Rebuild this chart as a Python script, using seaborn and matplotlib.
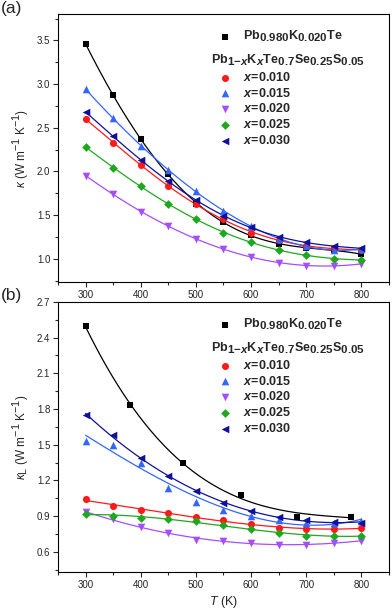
import numpy as np
import pandas as pd
import matplotlib
matplotlib.use("Agg")
import matplotlib.pyplot as plt
import matplotlib._mathtext as mathtext_impl
import seaborn as sns
from matplotlib.ticker import MultipleLocator, FormatStrFormatter

sns.set_style("ticks")
plt.rcParams['font.family'] = ['Liberation Sans', 'DejaVu Sans']
plt.rcParams['mathtext.fontset'] = 'custom'
plt.rcParams['mathtext.rm'] = 'Liberation Sans'
plt.rcParams['mathtext.it'] = 'Liberation Sans:italic'
plt.rcParams['mathtext.bf'] = 'Liberation Sans:bold'
plt.rcParams['mathtext.bfit'] = 'Liberation Sans:bold:italic'
# Origin-style subscripts are nearly full size
mathtext_impl.SHRINK_FACTOR = 0.92

# temperatures
T = [300, 350, 400, 450, 500, 550, 600, 650, 700, 750, 800]
T_ref_b = [300, 380, 476, 582, 683, 782]

# (a) total thermal conductivity
kap_ref = [3.46, 2.87, 2.37, 1.97, 1.63, 1.42, 1.27, 1.17, 1.12, 1.10, 1.05]
kap_010 = [2.60, 2.33, 2.07, 1.83, 1.63, 1.45, 1.30, 1.21, 1.15, 1.12, 1.10]
kap_015 = [2.94, 2.61, 2.29, 2.02, 1.77, 1.55, 1.37, 1.23, 1.14, 1.10, 1.11]
kap_020 = [1.95, 1.74, 1.54, 1.37, 1.23, 1.11, 1.02, 0.955, 0.92, 0.92, 0.94]
kap_025 = [2.28, 2.04, 1.83, 1.63, 1.45, 1.30, 1.19, 1.10, 1.04, 1.00, 0.985]
kap_030 = [2.68, 2.40, 2.13, 1.89, 1.67, 1.49, 1.36, 1.25, 1.19, 1.14, 1.12]

# (b) lattice thermal conductivity
kl_ref = [2.50, 1.83, 1.345, 1.08, 0.895, 0.895]
kl_010 = [1.04, 0.985, 0.95, 0.925, 0.895, 0.865, 0.83, 0.80, 0.79, 0.79, 0.80]
kl_015 = [1.53, 1.50, 1.35, 1.14, 1.02, 0.95, 0.90, 0.865, 0.845, 0.84, 0.855]
kl_020 = [0.93, 0.875, 0.81, 0.76, 0.695, 0.69, 0.675, 0.66, 0.66, 0.675, 0.69]
kl_025 = [0.92, 0.90, 0.885, 0.875, 0.855, 0.825, 0.79, 0.755, 0.735, 0.73, 0.735]
kl_030 = [1.75, 1.58, 1.39, 1.235, 1.11, 1.01, 0.94, 0.89, 0.865, 0.85, 0.845]

labels = [r'$\mathbf{Pb_{0.980}K_{0.020}Te}$',
          r'$\mathbfit{x}\!\mathbf{{=}\!0.010}$',
          r'$\mathbfit{x}\!\mathbf{{=}\!0.015}$',
          r'$\mathbfit{x}\!\mathbf{{=}\!0.020}$',
          r'$\mathbfit{x}\!\mathbf{{=}\!0.025}$',
          r'$\mathbfit{x}\!\mathbf{{=}\!0.030}$']
colors = ['black', '#ff1a1a', '#3366ff', '#a64dff', '#1fa81f', '#10109a']
markers = ['s', 'o', '^', 'v', 'D', '<']
sizes = [20, 26, 30, 30, 20, 30]
formula = r'$\mathbf{Pb_{1{-}\mathbfit{x}}K_{\mathbfit{x}}Te_{0.7}Se_{0.25}S_{0.05}}$'


def draw(ax, xs, ys, degs):
    for i in range(6):
        x = np.array(xs[i], dtype=float)
        y = np.array(ys[i], dtype=float)
        coef = np.polyfit(x, y, degs[i])
        grid = np.linspace(x.min(), x.max(), 200)
        sns.lineplot(x=grid, y=np.polyval(coef, grid), color=colors[i],
                     linewidth=0.9, ax=ax)
        sns.scatterplot(x=x, y=y, color=colors[i], marker=markers[i],
                        s=sizes[i], linewidth=0, label=labels[i], ax=ax,
                        zorder=3)
    h, l = ax.get_legend_handles_labels()
    kw = dict(frameon=False, fontsize=9, handlelength=2.2,
              handletextpad=0.35, borderpad=0, borderaxespad=0,
              loc='upper left', scatterpoints=1)
    leg1 = ax.legend(h[:1], l[:1], bbox_to_anchor=(0.462, 0.945), **kw)
    ax.add_artist(leg1)
    ax.legend(h[1:], l[1:], title=formula, alignment='left',
              title_fontproperties={'size': 9},
              labelspacing=0.22, bbox_to_anchor=(0.462, 0.855), **kw)

    ax.set_xlim(250, 850)
    ax.xaxis.set_major_locator(MultipleLocator(100))
    ax.xaxis.set_minor_locator(MultipleLocator(50))
    ax.yaxis.set_major_formatter(FormatStrFormatter('%.1f'))
    ax.tick_params(which='major', direction='out', length=3.5, width=0.8,
                   labelsize=7, pad=2, top=False, right=False)
    ax.tick_params(which='minor', direction='out', length=2, width=0.8,
                   top=False, right=False)
    for s in ax.spines.values():
        s.set_visible(True)
        s.set_linewidth(0.8)
        s.set_color('black')


fig = plt.figure(figsize=(3.92, 6.15), dpi=100)
ax1 = fig.add_axes([0.148, 0.541, 0.844, 0.436])
ax2 = fig.add_axes([0.148, 0.070, 0.844, 0.439])

draw(ax1, [T] * 6, [kap_ref, kap_010, kap_015, kap_020, kap_025, kap_030],
     [5, 4, 4, 4, 4, 4])
ax1.set_ylim(0.73, 3.8)
ax1.yaxis.set_major_locator(MultipleLocator(0.5))
ax1.yaxis.set_minor_locator(MultipleLocator(0.25))
ax1.set_ylabel(r'$\kappa$ (W m$^{-1}$ K$^{-1}$)', fontsize=8.5, labelpad=4)

draw(ax2, [T_ref_b] + [T] * 5, [kl_ref, kl_010, kl_015, kl_020, kl_025, kl_030],
     [3, 3, 3, 3, 3, 3])
ax2.set_ylim(0.43, 2.7)
ax2.yaxis.set_major_locator(MultipleLocator(0.3))
ax2.yaxis.set_minor_locator(MultipleLocator(0.15))
ax2.set_ylabel(r'$\kappa_\mathrm{L}$ (W m$^{-1}$ K$^{-1}$)', fontsize=8.5, labelpad=4)
ax2.set_xlabel(r'$T$ (K)', fontsize=9, labelpad=3)

fig.text(0.003, 0.998, '(a)', fontsize=12.5, va='top', ha='left')
fig.text(0.003, 0.532, '(b)', fontsize=12.5, va='top', ha='left')

fig.savefig('out.png', dpi=100)
